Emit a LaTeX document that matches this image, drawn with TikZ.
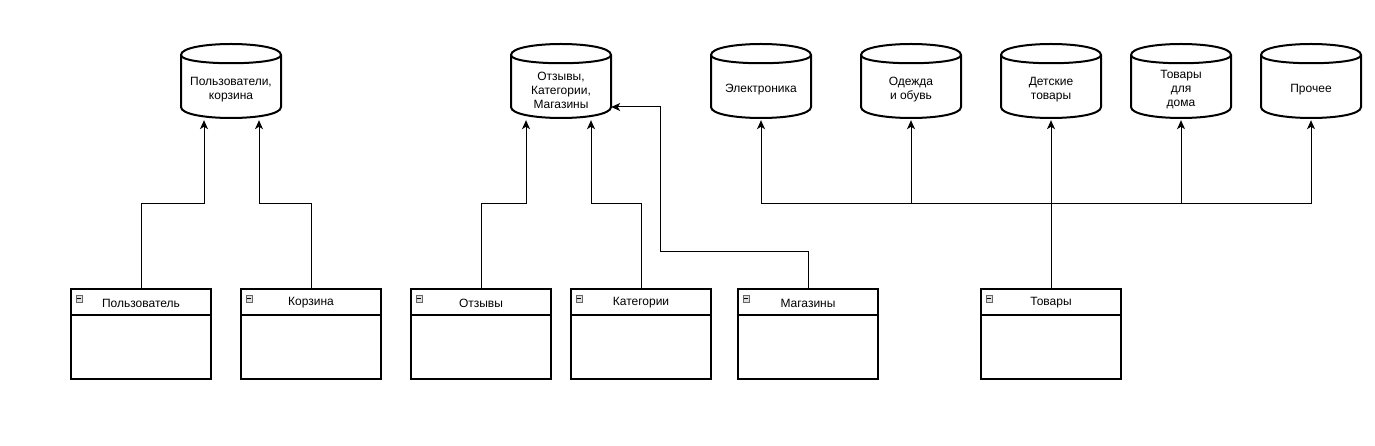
\documentclass[tikz,border=0pt]{standalone}
\usepackage{fontspec}
\setmainfont{Liberation Sans}
\usetikzlibrary{calc,arrows.meta}
\tikzset{
  cylbox/.style={draw=none,minimum width=100pt,minimum height=76pt,inner sep=0pt},
  cylline/.style={draw=black,line width=2pt},
  cyltext/.style={font=\fontsize{12}{14}\selectfont,align=center,inner sep=0pt},
  tblbox/.style={draw=black,line width=1.2pt,minimum width=140pt,minimum height=90pt,inner sep=0pt},
  tbltext/.style={font=\fontsize{12}{14}\selectfont,inner sep=0pt},
  tblicon/.style={draw=gray!80!black,fill=gray!25,line width=0.7pt},
  conn/.style={draw=black,line width=1pt,-{Stealth[length=9pt,width=8pt,inset=2.5pt]}},
}
\newcommand\dbcyl[3]{%
  \node[cylbox] (#1) at ({#2+50},82) {};
  \draw[cylline] (#2,55) .. controls (#2,40.33) and ({#2+100},40.33) .. ({#2+100},55)
     -- ({#2+100},107) .. controls ({#2+100},121.67) and (#2,121.67) .. (#2,107) -- cycle;
  \draw[cylline] (#2,55) .. controls (#2,66) and ({#2+100},66) .. ({#2+100},55);
  \node[cyltext] (#1-t) at ({#2+50},90) {#3};
}
\newcommand\erbox[3]{%
  \node[tblbox] (#1) at ({#2+70},334) {};
  \draw[line width=1.2pt] (#2,315) -- ({#2+140},315);
  \node[tbltext] (#1-t) at ({#2+70},303) {#3};
  \draw[tblicon] ({#2+5},295.5) rectangle ({#2+11.5},302);
  \draw[line width=0.9pt] ({#2+6.3},298.8) -- ({#2+10.2},298.8);
}
\begin{document}
\begin{tikzpicture}[x=1pt,y=-1pt]
\useasboundingbox (0,0) rectangle (1375,446);
\dbcyl{c1}{181}{Пользователи,\\корзина}
\dbcyl{c2}{511}{Отзывы,\\Категории,\\Магазины}
\dbcyl{el}{711}{Электроника}
\dbcyl{od}{861}{Одежда\\и обувь}
\dbcyl{de}{1001}{Детские\\товары}
\dbcyl{dom}{1131}{Товары\\для\\дома}
\dbcyl{pr}{1261}{Прочее}
\erbox{pol}{71}{Пользователь}
\erbox{kor}{241}{Корзина}
\erbox{otz}{411}{Отзывы}
\erbox{kat}{571}{Категории}
\erbox{mag}{738}{Магазины}
\erbox{tov}{981}{Товары}
\coordinate (bus) at (0,204);
\draw[conn] (pol.north) -- (pol.north |- bus) -| ($(c1.south)+(-27,0)$);
\draw[conn] (kor.north) -- (kor.north |- bus) -| ($(c1.south)+(28,0)$);
\draw[conn] (otz.north) -- (otz.north |- bus) -| ($(c2.south)+(-35,0)$);
\draw[conn] (kat.north) -- (kat.north |- bus) -| ($(c2.south)+(30,0)$);
\draw[conn] (mag.north) -- ++(0,-37) -- ++(-148,0) |- ($(c2.east)+(0,25)$);
\draw[conn] (tov.north) -- (tov.north |- bus) -| (el.south);
\draw[conn] (tov.north) -- (tov.north |- bus) -| (od.south);
\draw[conn] (tov.north) -- (de.south);
\draw[conn] (tov.north) -- (tov.north |- bus) -| (dom.south);
\draw[conn] (tov.north) -- (tov.north |- bus) -| (pr.south);
\end{tikzpicture}
\end{document}
